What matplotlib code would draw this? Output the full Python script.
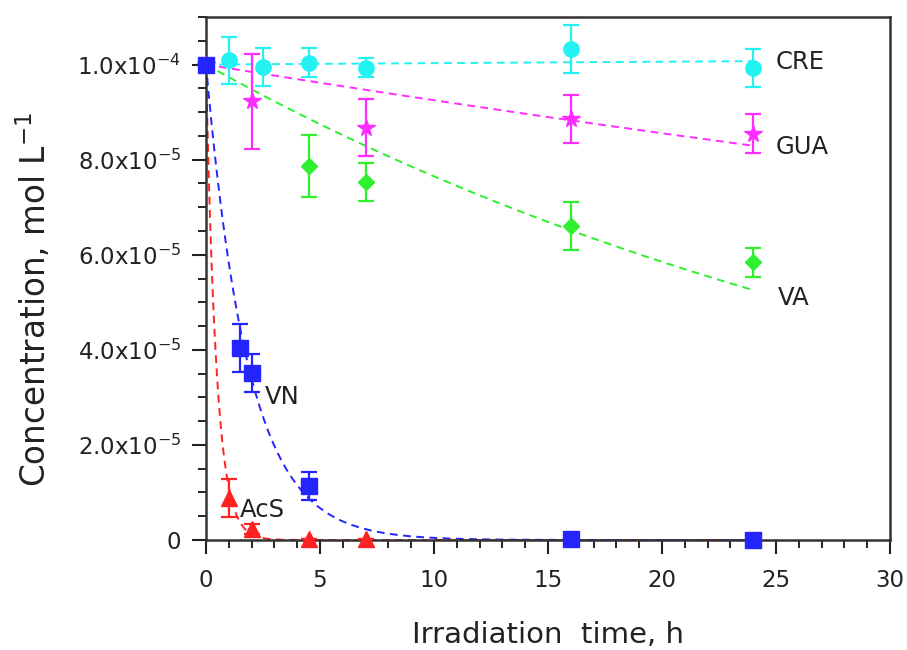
import numpy as np
import matplotlib
matplotlib.use("Agg")
import matplotlib.pyplot as plt
import matplotlib.ticker as mticker

plt.rcParams["font.family"] = ["DejaVu Sans"]
plt.rcParams["mathtext.default"] = "regular"

# irradiation times (h) and concentrations (mol/L) with std. deviations
cre_t = [0, 1, 2.5, 4.5, 7, 16, 24]
cre_c = [1.00e-4, 1.009e-4, 0.995e-4, 1.004e-4, 0.993e-4, 1.033e-4, 0.993e-4]
cre_err = [0, 5e-6, 4e-6, 3e-6, 2e-6, 5e-6, 4e-6]

gua_t = [0, 2, 7, 16, 24]
gua_c = [1.00e-4, 0.923e-4, 0.867e-4, 0.886e-4, 0.855e-4]
gua_err = [0, 10e-6, 6e-6, 5e-6, 4e-6]

va_t = [0, 4.5, 7, 16, 24]
va_c = [1.00e-4, 0.786e-4, 0.754e-4, 0.661e-4, 0.584e-4]
va_err = [0, 6.5e-6, 4e-6, 5e-6, 3e-6]

vn_t = [0, 1.5, 2, 4.5, 16, 24]
vn_c = [1.00e-4, 4.04e-5, 3.51e-5, 1.14e-5, 2e-7, 1e-7]
vn_err = [0, 5e-6, 4e-6, 3e-6, 0, 0]

acs_t = [1, 2, 4.5, 7]
acs_c = [8.8e-6, 2.3e-6, 2e-7, 2e-7]
acs_err = [4e-6, 1e-6, 0, 0]

# first-order rate constants (1/h) of the fitted decay curves
k_cre = -0.0003
k_gua = 0.0078
k_va = 0.0268
k_vn = 0.54
k_acs = 2.2
c0 = 1.0e-4

series = [
    ("CRE", cre_t, cre_c, cre_err, k_cre, "#22f2f2", "o", 11),
    ("GUA", gua_t, gua_c, gua_err, k_gua, "#ff2cff", "*", 13),
    ("VA", va_t, va_c, va_err, k_va, "#2ef02e", "D", 8.5),
    ("AcS", acs_t, acs_c, acs_err, k_acs, "#ff2222", "^", 11),
    ("VN", vn_t, vn_c, vn_err, k_vn, "#2424ff", "s", 11),
]

# label positions (h, mol/L)
label_pos = {
    "CRE": (25.0, 1.006e-4),
    "GUA": (25.0, 8.27e-5),
    "VA": (25.1, 5.09e-5),
    "VN": (2.6, 3.01e-5),
    "AcS": (1.5, 6.3e-6),
}

fig = plt.figure(figsize=(9.07, 6.5), dpi=100)
ax = fig.add_axes([0.2271, 0.1692, 0.9813 - 0.2271, 0.9738 - 0.1692])

t_fit = np.linspace(0, 24, 400)
for name, t, c, err, k, color, marker, ms in series:
    ax.plot(t_fit, c0 * np.exp(-k * t_fit), linestyle=(0, (4, 2.8)), color=color, lw=1.4, zorder=2)
    ax.errorbar(t, c, yerr=err, fmt=marker, color=color, ms=ms, mec=color,
                ecolor=color, elinewidth=1.6, capsize=5.5, capthick=1.6,
                clip_on=False, zorder=3)

for name, (x, y) in label_pos.items():
    ax.text(x, y, name, fontsize=17.5, color="#222222", va="center", ha="left")

ax.set_xlim(0, 30)
ax.set_ylim(0, 1.1e-4)
ax.xaxis.set_major_locator(mticker.MultipleLocator(5))
ax.xaxis.set_minor_locator(mticker.MultipleLocator(1))
ax.yaxis.set_major_locator(mticker.MultipleLocator(2e-5))
ax.yaxis.set_minor_locator(mticker.MultipleLocator(5e-6))


def y_fmt(v, _):
    if v <= 1e-12:
        return "0"
    exp = int(np.floor(np.log10(v) + 1e-9))
    mant = v / 10 ** exp
    return f"{mant:.1f}x10$^{{{exp}}}$"


ax.yaxis.set_major_formatter(mticker.FuncFormatter(y_fmt))
ax.tick_params(which="major", length=10, width=1.5, labelsize=16.5, colors="#222222")
ax.tick_params(axis="x", which="major", pad=11)
ax.tick_params(axis="y", which="major", pad=8)
ax.tick_params(which="minor", length=6, width=1.2)
for sp in ax.spines.values():
    sp.set_linewidth(1.8)
    sp.set_color("#333333")

ax.set_xlabel("Irradiation  time, h", fontsize=21, color="#222222")
ax.xaxis.set_label_coords(0.5, -0.155)
ax.set_ylabel("Concentration, mol L$^{-1}$", fontsize=23.5, color="#222222")
ax.yaxis.set_label_coords(-0.223, 0.459)

fig.savefig("out.png", dpi=100)
